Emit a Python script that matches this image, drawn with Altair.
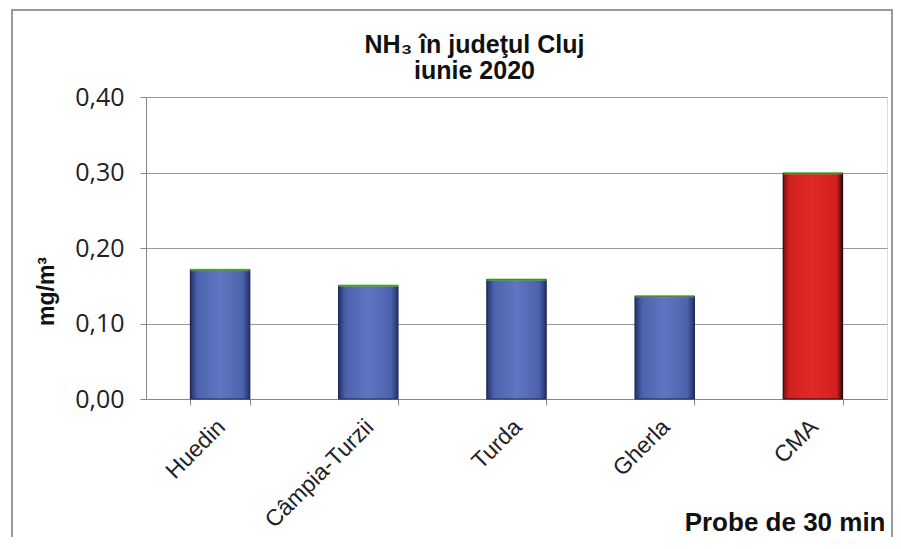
import altair as alt
import pandas as pd

locations = ["Huedin", "Câmpia-Turzii", "Turda", "Gherla", "CMA"]
values = [0.171, 0.150, 0.158, 0.136, 0.299]
groups = ["blue", "blue", "blue", "blue", "red"]
y_ticks = [0.0, 0.1, 0.2, 0.3, 0.4]

df = pd.DataFrame({"loc": locations, "val": values, "grp": groups})

W, H = 741, 302
FONT = "Liberation Sans"

x_enc = alt.X(
    "loc:N",
    sort=locations,
    scale=alt.Scale(paddingInner=0.6, paddingOuter=0.3),
    axis=alt.Axis(
        title="Probe de 30 min",
        titleFont=FONT, titleFontSize=26, titleFontWeight="bold", titleColor="#111",
        titleAnchor="end", titleAlign="right", titleBaseline="alphabetic",
        titleX=W - 2, titleY=131,
        labelAngle=-45, labelAlign="right", labelBaseline="middle",
        labelFont=FONT, labelFontSize=23, labelColor="#222", labelPadding=18,
        labelOffset=1,
        tickBand="extent", tickColor="#888", tickSize=6, tickWidth=1,
        domainColor="#888", domainWidth=1, grid=False,
    ),
)
y_enc = alt.Y(
    "val:Q",
    scale=alt.Scale(domain=[0, 0.4], nice=False),
    axis=alt.Axis(
        title="mg/m³", titleFont=FONT, titleFontSize=23, titleFontWeight="bold",
        titleColor="#111", titlePadding=16, titleY=194,
        values=y_ticks,
        labelExpr="replace(format(datum.value, '.2f'), '.', ',')",
        labelFont="Open Sans", labelFontSize=25, labelColor="#222", labelPadding=16,
        tickColor="#888", tickSize=6, domainColor="#888",
        grid=True, gridColor="#9a9a9a", gridWidth=1,
    ),
)

blue_grad = alt.Gradient(
    gradient="linear", x1=0, x2=1, y1=0, y2=0,
    stops=[
        alt.GradientStop(color="#24336e", offset=0),
        alt.GradientStop(color="#4d62ad", offset=0.12),
        alt.GradientStop(color="#6176c2", offset=0.5),
        alt.GradientStop(color="#4d62ad", offset=0.88),
        alt.GradientStop(color="#24336e", offset=1),
    ],
)
red_grad = alt.Gradient(
    gradient="linear", x1=0, x2=1, y1=0, y2=0,
    stops=[
        alt.GradientStop(color="#7a1010", offset=0),
        alt.GradientStop(color="#d21f1f", offset=0.1),
        alt.GradientStop(color="#e02a26", offset=0.5),
        alt.GradientStop(color="#d21f1f", offset=0.9),
        alt.GradientStop(color="#3a0a0a", offset=1),
    ],
)

base = alt.Chart(df)

frame = base.mark_rect(fill=None, stroke="#9a9a9a", strokeWidth=1.5).encode(
    x=alt.value(12 - 146), x2=alt.value(746),
    y=alt.value(10 - 97), y2=alt.value(600),
)

blue_bars = base.transform_filter(alt.datum.grp == "blue").mark_bar(
    fill=blue_grad, stroke="#1c2550", strokeWidth=1.2
).encode(x=x_enc, y=y_enc)

red_bars = base.transform_filter(alt.datum.grp == "red").mark_bar(
    fill=red_grad, stroke="#2a0a0a", strokeWidth=1.2
).encode(x=x_enc, y=y_enc)

tops = base.mark_tick(color="#5cb040", thickness=2.5, size=59).encode(
    x=x_enc, y=y_enc
)

chart = alt.layer(blue_bars, red_bars, tops, frame).properties(
    width=W, height=H,
    autosize=alt.AutoSizeParams(type="none"),
    padding={"left": 138, "top": 89, "right": 6, "bottom": 138},
    title=alt.TitleParams(
        text=["NH₃ în judeţul Cluj", "iunie 2020"],
        font=FONT, fontSize=25, fontWeight="bold", color="#111",
        anchor="middle", frame="group", dx=-42, offset=-75, lineHeight=26,
    ),
).configure_view(stroke="#111", strokeWidth=1.5).configure(background="white")

chart.save("out.html", embed_options={"renderer": "svg", "actions": False})
